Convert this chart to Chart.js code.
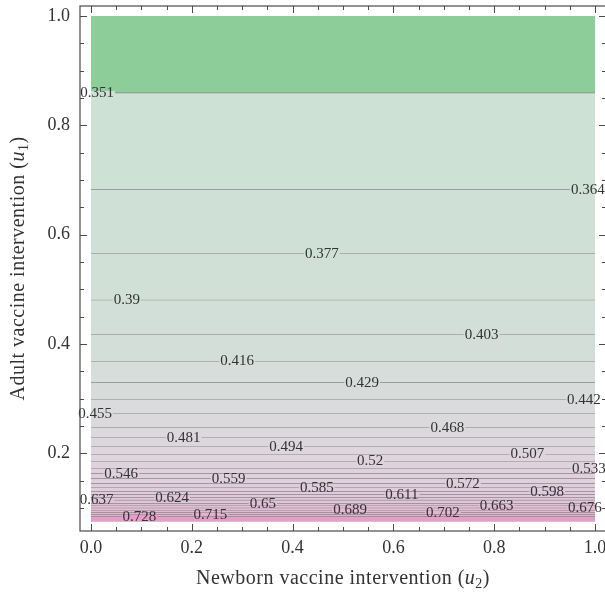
<!DOCTYPE html>
<html>
<head>
<meta charset="utf-8">
<title>Contour: adult vs newborn vaccine intervention</title>
<script src="https://cdn.jsdelivr.net/npm/chart.js"></script>
<style>
  html, body { margin: 0; padding: 0; background: #fff; overflow: hidden; }
  canvas { display: block; }
</style>
</head>
<body>
<canvas id="c" width="615" height="595"></canvas>
<script>
// contour levels and where each (nearly flat) contour sits on the u1 axis
const levels = [0.351, 0.364, 0.377, 0.39, 0.403, 0.416, 0.429, 0.442, 0.455, 0.468,
                0.481, 0.494, 0.507, 0.52, 0.533, 0.546, 0.559, 0.572, 0.585, 0.598,
                0.611, 0.624, 0.637, 0.65, 0.663, 0.676, 0.689, 0.702, 0.715, 0.728];
const levelU1 = [0.860, 0.683, 0.566, 0.481, 0.418, 0.369, 0.330, 0.2985, 0.273, 0.248,
                 0.229, 0.2126, 0.199, 0.186, 0.173, 0.1635, 0.1544, 0.1452, 0.138, 0.131,
                 0.125, 0.1196, 0.115, 0.109, 0.1046, 0.1006, 0.0964, 0.0922, 0.0885, 0.0849];
// u2 position of each contour label
const labelU2 = [0.012, 0.986, 0.458, 0.071, 0.775, 0.29, 0.538, 0.978, 0.008, 0.707,
                 0.184, 0.387, 0.866, 0.554, 0.988, 0.06, 0.273, 0.738, 0.448, 0.905,
                 0.617, 0.161, 0.011, 0.341, 0.805, 0.98, 0.514, 0.698, 0.237, 0.096];
const u1Top = 1.0;
const u1Bottom = 0.075;
const u2Ticks = [0, 0.2, 0.4, 0.6, 0.8, 1.0];
const u1Ticks = [0.2, 0.4, 0.6, 0.8, 1.0];

const SERIF = '"Liberation Serif", "DejaVu Serif", serif';
const lineGray = '#878787';
const topColor = 'rgb(141,205,153)';
const bottomColor = 'rgb(228,158,201)';
const anchors = [
  [0.351, [204, 226, 213]],
  [0.43, [215, 221, 219]],
  [0.5, [221, 214, 221]],
  [0.6, [225, 203, 219]],
  [0.7, [227, 186, 212]],
  [0.728, [228, 175, 206]]
];
function mixColor(v) {
  if (v <= anchors[0][0]) return anchors[0][1];
  for (let k = 1; k < anchors.length; k++) {
    if (v <= anchors[k][0]) {
      const a = anchors[k - 1], b = anchors[k];
      const t = (v - a[0]) / (b[0] - a[0]);
      return a[1].map((c, j) => Math.round(c + (b[1][j] - c) * t));
    }
  }
  return anchors[anchors.length - 1][1];
}
function bandColor(i) {
  if (i < 0) return topColor;
  if (i >= levels.length - 1) return bottomColor;
  const c = mixColor((levels[i] + levels[i + 1]) / 2);
  return 'rgb(' + c.join(',') + ')';
}

const flat = y => [{ x: 0, y: y }, { x: 1, y: y }];
const datasets = [];
datasets.push({ data: flat(u1Top), borderColor: 'rgba(0,0,0,0)', borderWidth: 0,
                fill: '+1', backgroundColor: topColor });
levels.forEach((lv, i) => {
  datasets.push({ data: flat(levelU1[i]), borderColor: lineGray, borderWidth: 1.2,
                  fill: '+1', backgroundColor: bandColor(i) });
});
datasets.push({ data: flat(u1Bottom), borderColor: 'rgba(0,0,0,0)', borderWidth: 0, fill: false });

function drawTitle(ctx, parts, size) {
  // parts: [text, style] ; style 'n' normal, 'i' italic, 's' subscript
  const fontOf = st => (st === 'i' ? 'italic ' : '') + (st === 's' ? Math.round(size * 0.7) : size) + 'px ' + SERIF;
  ctx.letterSpacing = '0.5px';
  let w = 0;
  parts.forEach(p => { ctx.font = fontOf(p[1]); w += ctx.measureText(p[0]).width; });
  let x = -w / 2;
  parts.forEach(p => {
    ctx.font = fontOf(p[1]);
    ctx.fillText(p[0], x, p[1] === 's' ? size * 0.25 : 0);
    x += ctx.measureText(p[0]).width;
  });
  ctx.letterSpacing = '0px';
}

const framePlugin = {
  id: 'frame',
  afterDatasetsDraw(chart) {
    const ctx = chart.ctx;
    const xs = chart.scales.x, ys = chart.scales.y;
    const a = chart.chartArea;
    ctx.save();
    // contour labels, with own line masked under the text
    ctx.font = '15px ' + SERIF;
    ctx.textAlign = 'center';
    ctx.textBaseline = 'middle';
    levels.forEach((lv, i) => {
      const txt = String(lv);
      const px = xs.getPixelForValue(labelU2[i]);
      const py = ys.getPixelForValue(levelU1[i]);
      const w = ctx.measureText(txt).width;
      const x0 = Math.max(px - w / 2 - 1, xs.getPixelForValue(0));
      const x1 = Math.min(px + w / 2 + 1, xs.getPixelForValue(1));
      ctx.fillStyle = bandColor(i);
      ctx.fillRect(x0, py - 1.6, x1 - x0, 3.2);
      ctx.fillStyle = '#333';
      ctx.fillText(txt, px, py + 0.5);
    });
    // frame
    ctx.strokeStyle = '#4a4a4a';
    ctx.lineWidth = 1.2;
    ctx.strokeRect(a.left, a.top, a.right - a.left, a.bottom - a.top);
    ctx.lineWidth = 1;
    // ticks
    ctx.beginPath();
    for (let k = 0; k <= 20; k++) {
      const v = k * 0.05;
      const major = k % 4 === 0;
      const len = major ? 7 : 4;
      const px = Math.round(xs.getPixelForValue(v)) + 0.5;
      ctx.moveTo(px, a.bottom); ctx.lineTo(px, a.bottom - len);
      ctx.moveTo(px, a.top); ctx.lineTo(px, a.top + len);
      if (v >= 0.09 && v <= 1.001) {
        const py = Math.round(ys.getPixelForValue(v)) + 0.5;
        ctx.moveTo(a.left, py); ctx.lineTo(a.left + len, py);
        ctx.moveTo(a.right, py); ctx.lineTo(a.right - len, py);
      }
    }
    ctx.stroke();
    // tick labels
    ctx.fillStyle = '#333';
    ctx.font = '18px ' + SERIF;
    ctx.textAlign = 'center';
    ctx.textBaseline = 'middle';
    u2Ticks.forEach(v => ctx.fillText(v.toFixed(1), xs.getPixelForValue(v), a.bottom + 17));
    ctx.textAlign = 'right';
    u1Ticks.forEach(v => ctx.fillText(v.toFixed(1), a.left - 10, ys.getPixelForValue(v)));
    // axis titles
    ctx.textAlign = 'left';
    ctx.textBaseline = 'middle';
    ctx.save();
    ctx.translate((a.left + a.right) / 2, 579);
    drawTitle(ctx, [['Newborn vaccine intervention (', 'n'], ['u', 'i'], ['2', 's'], [')', 'n']], 20);
    ctx.restore();
    ctx.save();
    ctx.translate(19, (a.top + a.bottom) / 2);
    ctx.rotate(-Math.PI / 2);
    drawTitle(ctx, [['Adult vaccine intervention (', 'n'], ['u', 'i'], ['1', 's'], [')', 'n']], 20);
    ctx.restore();
    ctx.restore();
  }
};

new Chart(document.getElementById('c'), {
  type: 'line',
  data: { datasets: datasets },
  options: {
    responsive: false,
    animation: false,
    events: [],
    layout: { padding: { left: 80, right: 9, top: 6, bottom: 64 } },
    elements: { point: { radius: 0 }, line: { tension: 0 } },
    plugins: { legend: { display: false }, tooltip: { enabled: false } },
    scales: {
      x: { type: 'linear', min: -0.0218, max: 1.0218, display: false },
      y: { type: 'linear', min: 0.058, max: 1.0183, display: false }
    }
  },
  plugins: [framePlugin]
});
</script>
</body>
</html>
